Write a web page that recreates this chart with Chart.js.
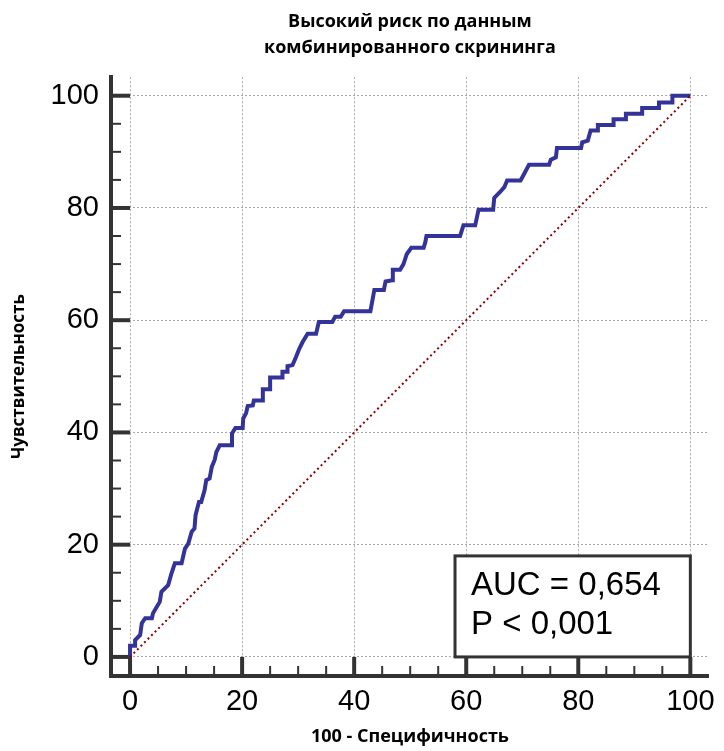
<!DOCTYPE html>
<html>
<head>
<meta charset="utf-8">
<script src="https://cdn.jsdelivr.net/npm/chart.js@4.4.0/dist/chart.umd.min.js"></script>
<style>
  html, body { margin: 0; padding: 0; background: #fff; }
</style>
</head>
<body>
<canvas id="roc" width="724" height="751"></canvas>
<script>
// ROC curve (100 - specificity, sensitivity)
const fpr = [0, 0, 0.9, 0.9, 1.8, 2.1, 2.7, 3.9, 4.1, 4.7, 5.3, 5.6, 6.8, 7.4, 8.0, 9.2, 9.8, 10.4, 11.0, 11.5,
  11.7, 12.3, 12.7, 13.3, 13.6, 14.2, 14.6, 15.1, 15.4, 16.0, 18.2, 18.2, 18.8, 20.1, 20.2, 20.7, 21.0, 21.9, 22.1, 23.6,
  23.7, 25.0, 25.0, 27.2, 27.2, 28.1, 28.1, 29.0, 29.6, 30.2, 30.8, 31.7, 33.2, 33.7, 36.1, 36.6, 37.6, 38.2, 42.9, 43.6,
  45.3, 45.6, 46.8, 46.9, 48.2, 48.8, 49.4, 50.2, 52.4, 52.7, 52.9, 58.9, 59.5, 61.6, 62.2, 64.8, 65.0, 66.0, 66.8, 67.3,
  69.7, 70.3, 71.2, 74.8, 75.1, 76.0, 76.2, 80.5, 80.7, 81.7, 82.2, 83.5, 83.5, 86.3, 86.3, 88.5, 88.5, 91.4, 91.4, 94.4,
  94.4, 96.8, 96.8, 100];
const tpr = [0, 2.0, 2.0, 3.0, 3.9, 6.0, 6.9, 6.9, 7.8, 8.8, 9.8, 11.6, 12.8, 14.9, 16.7, 16.7, 19.3, 20.2, 22.3, 22.9,
  25.3, 27.6, 27.6, 29.7, 31.5, 31.8, 33.9, 35.1, 36.5, 37.7, 37.7, 39.8, 40.8, 40.8, 42.5, 43.4, 44.7, 44.8, 45.7, 45.7,
  47.7, 47.7, 49.8, 49.8, 50.8, 50.8, 51.8, 52.0, 53.4, 54.9, 56.1, 57.6, 57.6, 59.7, 59.7, 60.6, 60.6, 61.6, 61.6, 65.4,
  65.4, 66.9, 67.1, 69.0, 69.0, 70.0, 71.8, 72.9, 72.9, 73.9, 75.0, 75.0, 76.9, 76.9, 79.7, 79.7, 81.8, 82.8, 83.7, 84.9,
  84.9, 86.0, 87.7, 87.7, 88.6, 89.0, 90.7, 90.7, 91.7, 92.0, 93.8, 93.8, 94.8, 94.8, 95.8, 95.8, 96.8, 96.8, 97.8, 97.8,
  98.8, 98.8, 100, 100];
const diagX = [0, 100];
const diagY = [0, 100];
const tickValues = [0, 20, 40, 60, 80, 100];
const minorStep = 5;
const titleLines = ['Высокий риск по данным', 'комбинированного скрининга'];
const xTitle = '100 - Специфичность';
const yTitle = 'Чувствительность';
const aucLines = ['AUC = 0,654', 'P < 0,001'];
const aucBoxRange = { x0: 58, x1: 100, y0: 0, y1: 18 };

const axisMin = -3.4;
const axisMax = 103.3;
const axisColor = '#333';

// inward tick marks, major ones reach the zero line
const inwardTicks = {
  id: 'inwardTicks',
  beforeDatasetsDraw(chart) {
    const { ctx, chartArea, scales: { x, y } } = chart;
    const majorX = y.getPixelForValue(0);
    const majorY = x.getPixelForValue(0);
    ctx.save();
    ctx.strokeStyle = axisColor;
    for (let v = 0; v <= 100; v += minorStep) {
      const major = tickValues.includes(v);
      ctx.lineWidth = major ? 4 : 2;
      const px = x.getPixelForValue(v);
      ctx.beginPath();
      ctx.moveTo(px, chartArea.bottom);
      ctx.lineTo(px, major ? majorX : chartArea.bottom - 10);
      ctx.stroke();
      const py = y.getPixelForValue(v);
      ctx.beginPath();
      ctx.moveTo(chartArea.left, py);
      ctx.lineTo(major ? majorY : chartArea.left + 10, py);
      ctx.stroke();
    }
    ctx.restore();
  }
};

const aucBox = {
  id: 'aucBox',
  afterDatasetsDraw(chart) {
    const { ctx, scales: { x, y } } = chart;
    const l = x.getPixelForValue(aucBoxRange.x0);
    const r = x.getPixelForValue(aucBoxRange.x1);
    const t = y.getPixelForValue(aucBoxRange.y1);
    const b = y.getPixelForValue(aucBoxRange.y0);
    ctx.save();
    ctx.fillStyle = '#fff';
    ctx.fillRect(l, t, r - l, b - t);
    ctx.lineWidth = 3;
    ctx.strokeStyle = axisColor;
    ctx.strokeRect(l, t, r - l, b - t);
    ctx.fillStyle = '#000';
    ctx.font = '33px "Liberation Sans", Arial, sans-serif';
    ctx.textBaseline = 'alphabetic';
    ctx.fillText(aucLines[0], l + 16, t + 39);
    ctx.fillText(aucLines[1], l + 16, t + 78);
    ctx.restore();
  }
};

const tickFont = { family: '"Liberation Sans", Arial, sans-serif', size: 29 };

function fixedTicks(scale) {
  scale.ticks = tickValues.map(v => ({ value: v }));
}

new Chart(document.getElementById('roc'), {
  type: 'scatter',
  data: {
    datasets: [
      {
        data: diagX.map((v, i) => ({ x: v, y: diagY[i] })),
        showLine: true,
        borderColor: '#8b0000',
        borderWidth: 2,
        borderDash: [2, 3],
        pointRadius: 0,
        tension: 0
      },
      {
        data: fpr.map((v, i) => ({ x: v, y: tpr[i] })),
        showLine: true,
        borderColor: '#333399',
        borderWidth: 4,
        pointRadius: 0,
        tension: 0
      }
    ]
  },
  options: {
    responsive: false,
    animation: false,
    layout: { padding: { left: 0, right: 12, top: 0, bottom: 0 } },
    plugins: {
      legend: { display: false },
      tooltip: { enabled: false },
      title: {
        display: true,
        text: titleLines,
        fullSize: false,
        color: '#000',
        font: { family: '"Open Sans", sans-serif', size: 18, weight: 'bold', lineHeight: 1.45 },
        padding: { top: 9, bottom: 16 }
      }
    },
    scales: {
      x: {
        type: 'linear',
        min: axisMin,
        max: axisMax,
        afterBuildTicks: fixedTicks,
        afterFit(scale) { scale.height = 75; },
        grid: { color: '#aaa', lineWidth: 1, drawTicks: false },
        border: { display: true, color: axisColor, width: 4, dash: [2, 2] },
        ticks: { font: tickFont, color: '#000', padding: 9, autoSkip: false, maxRotation: 0 },
        title: {
          display: true, text: xTitle, color: '#000',
          font: { family: '"Open Sans", sans-serif', size: 18, weight: 'bold', lineHeight: 1.2 },
          padding: { top: 0, bottom: 3 }
        }
      },
      y: {
        type: 'linear',
        min: axisMin,
        max: axisMax,
        afterBuildTicks: fixedTicks,
        afterFit(scale) { scale.width = 111; },
        grid: { color: '#aaa', lineWidth: 1, drawTicks: false },
        border: { display: true, color: axisColor, width: 4, dash: [2, 2] },
        ticks: { font: tickFont, color: '#000', padding: 12, autoSkip: false },
        title: {
          display: true, text: yTitle, color: '#000',
          font: { family: '"Open Sans", sans-serif', size: 17, weight: 'bold', lineHeight: 1.2 },
          padding: { top: 9, bottom: 0 }
        }
      }
    }
  },
  plugins: [inwardTicks, aucBox]
});
</script>
</body>
</html>
